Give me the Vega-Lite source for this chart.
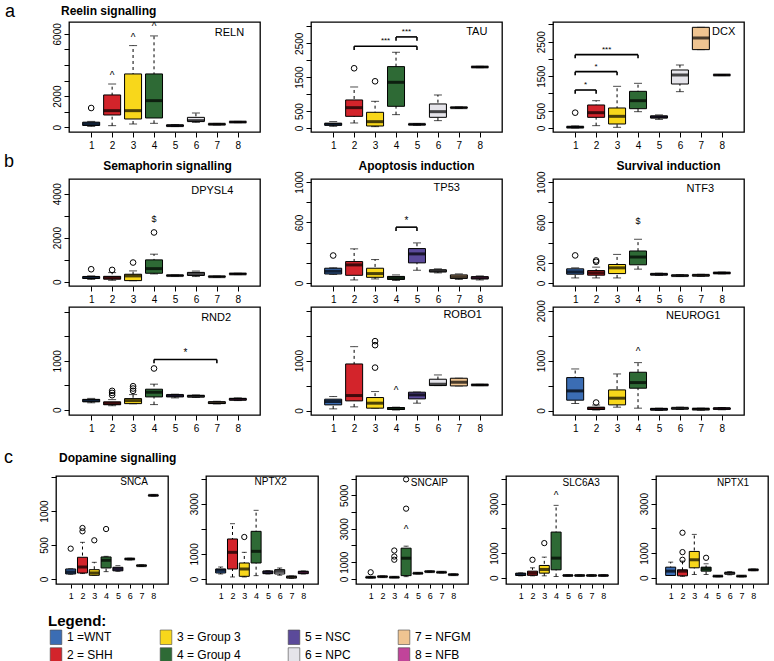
{
"$schema":"https://vega.github.io/schema/vega-lite/v6.json",
"background":"white",
"padding":{"left":4,"top":3,"right":0,"bottom":0},
"config":{
 "font":"Liberation Sans",
 "view":{"stroke":"black","strokeWidth":1.3},
 "text":{"color":"black","fill":"black"},
 "title":{"fontSize":12,"fontWeight":"bold","color":"black","font":"Liberation Sans"},
 "axisX":{"tickSize":5,"labelPadding":3,"labelFontSize":10,"domain":false,"grid":false,"tickColor":"black","labelColor":"black","labelAngle":0,"labelFlush":false,"title":null},
 "axisY":{"tickSize":5,"labelPadding":2,"labelFontSize":10,"domain":false,"grid":false,"tickColor":"black","labelColor":"black","labelAngle":270,"labelAlign":"center","labelBaseline":"bottom","labelOverlap":false,"labelFlush":false,"format":"d","title":null},
 "legend":{"orient":"none","legendX":31,"legendY":592,"direction":"horizontal","columns":4,"gridAlign":"each","columnPadding":45,"rowPadding":0,"titleFontSize":15,"titleFontWeight":"bold","titleFont":"Liberation Sans","labelFont":"Liberation Sans","labelFontSize":12,"labelColor":"black","titleColor":"black","symbolType":"M-0.8,-1H0.8V1H-0.8Z","symbolSize":210,"symbolStrokeColor":"#444","symbolStrokeWidth":0.6,"labelOffset":3,"titlePadding":0}
},
"datasets":{
 "box":[
  {"gene":"RELN","g":1,"lo":60,"q1":120,"med":220,"q3":330,"hi":380},
  {"gene":"RELN","g":2,"lo":107,"q1":792,"med":1070,"q3":2077,"hi":2780},
  {"gene":"RELN","g":3,"lo":214,"q1":535,"med":1070,"q3":3426,"hi":5246},
  {"gene":"RELN","g":4,"lo":257,"q1":600,"med":1713,"q3":3426,"hi":5867},
  {"gene":"RELN","g":5,"lo":50,"q1":70,"med":110,"q3":150,"hi":170},
  {"gene":"RELN","g":6,"lo":320,"q1":385,"med":430,"q3":640,"hi":920},
  {"gene":"RELN","g":7,"lo":150,"q1":170,"med":200,"q3":230,"hi":250},
  {"gene":"RELN","g":8,"lo":300,"q1":320,"med":340,"q3":360,"hi":380},
  {"gene":"TAU","g":1,"lo":50,"q1":80,"med":110,"q3":140,"hi":190},
  {"gene":"TAU","g":2,"lo":148,"q1":344,"med":600,"q3":827,"hi":1210},
  {"gene":"TAU","g":3,"lo":40,"q1":59,"med":187,"q3":463,"hi":787},
  {"gene":"TAU","g":4,"lo":394,"q1":640,"med":1348,"q3":1811,"hi":2234},
  {"gene":"TAU","g":5,"lo":80,"q1":95,"med":108,"q3":120,"hi":130},
  {"gene":"TAU","g":6,"lo":217,"q1":315,"med":482,"q3":709,"hi":974},
  {"gene":"TAU","g":7,"lo":580,"q1":590,"med":600,"q3":610,"hi":620},
  {"gene":"TAU","g":8,"lo":1780,"q1":1790,"med":1800,"q3":1810,"hi":1820},
  {"gene":"DCX","g":1,"lo":0,"q1":10,"med":25,"q3":40,"hi":60},
  {"gene":"DCX","g":2,"lo":68,"q1":309,"med":444,"q3":667,"hi":792},
  {"gene":"DCX","g":3,"lo":20,"q1":116,"med":338,"q3":580,"hi":1208},
  {"gene":"DCX","g":4,"lo":473,"q1":560,"med":792,"q3":1063,"hi":1295},
  {"gene":"DCX","g":5,"lo":250,"q1":290,"med":320,"q3":350,"hi":380},
  {"gene":"DCX","g":6,"lo":1053,"q1":1275,"med":1536,"q3":1681,"hi":1826},
  {"gene":"DCX","g":7,"lo":2271,"q1":2271,"med":2609,"q3":2918,"hi":2918},
  {"gene":"DCX","g":8,"lo":1520,"q1":1528,"med":1536,"q3":1544,"hi":1550},
  {"gene":"DPYSL4","g":1,"lo":100,"q1":140,"med":190,"q3":230,"hi":260},
  {"gene":"DPYSL4","g":2,"lo":60,"q1":110,"med":180,"q3":240,"hi":410},
  {"gene":"DPYSL4","g":3,"lo":40,"q1":46,"med":259,"q3":335,"hi":487},
  {"gene":"DPYSL4","g":4,"lo":350,"q1":380,"med":590,"q3":989,"hi":1248},
  {"gene":"DPYSL4","g":5,"lo":250,"q1":260,"med":275,"q3":290,"hi":300},
  {"gene":"DPYSL4","g":6,"lo":230,"q1":280,"med":350,"q3":420,"hi":480},
  {"gene":"DPYSL4","g":7,"lo":200,"q1":210,"med":225,"q3":240,"hi":250},
  {"gene":"DPYSL4","g":8,"lo":320,"q1":335,"med":350,"q3":365,"hi":380},
  {"gene":"TP53","g":1,"lo":85,"q1":89,"med":116,"q3":146,"hi":150},
  {"gene":"TP53","g":2,"lo":30,"q1":76,"med":179,"q3":212,"hi":338},
  {"gene":"TP53","g":3,"lo":40,"q1":56,"med":93,"q3":146,"hi":232},
  {"gene":"TP53","g":4,"lo":25,"q1":35,"med":50,"q3":65,"hi":80},
  {"gene":"TP53","g":5,"lo":126,"q1":199,"med":288,"q3":341,"hi":397},
  {"gene":"TP53","g":6,"lo":100,"q1":110,"med":120,"q3":130,"hi":140},
  {"gene":"TP53","g":7,"lo":35,"q1":45,"med":60,"q3":80,"hi":90},
  {"gene":"TP53","g":8,"lo":30,"q1":40,"med":52,"q3":62,"hi":70},
  {"gene":"NTF3","g":1,"lo":50,"q1":87,"med":110,"q3":140,"hi":150},
  {"gene":"NTF3","g":2,"lo":50,"q1":77,"med":100,"q3":123,"hi":157},
  {"gene":"NTF3","g":3,"lo":50,"q1":93,"med":150,"q3":183,"hi":283},
  {"gene":"NTF3","g":4,"lo":137,"q1":180,"med":257,"q3":317,"hi":433},
  {"gene":"NTF3","g":5,"lo":75,"q1":80,"med":86,"q3":92,"hi":97},
  {"gene":"NTF3","g":6,"lo":65,"q1":68,"med":73,"q3":78,"hi":82},
  {"gene":"NTF3","g":7,"lo":66,"q1":70,"med":76,"q3":82,"hi":86},
  {"gene":"NTF3","g":8,"lo":90,"q1":94,"med":99,"q3":104,"hi":108},
  {"gene":"RND2","g":1,"lo":140,"q1":160,"med":185,"q3":210,"hi":230},
  {"gene":"RND2","g":2,"lo":80,"q1":100,"med":125,"q3":160,"hi":205},
  {"gene":"RND2","g":3,"lo":120,"q1":123,"med":185,"q3":226,"hi":308},
  {"gene":"RND2","g":4,"lo":103,"q1":260,"med":356,"q3":418,"hi":521},
  {"gene":"RND2","g":5,"lo":240,"q1":260,"med":290,"q3":305,"hi":315},
  {"gene":"RND2","g":6,"lo":250,"q1":260,"med":274,"q3":290,"hi":300},
  {"gene":"RND2","g":7,"lo":116,"q1":125,"med":144,"q3":160,"hi":171},
  {"gene":"RND2","g":8,"lo":185,"q1":195,"med":212,"q3":228,"hi":240},
  {"gene":"ROBO1","g":1,"lo":33,"q1":113,"med":180,"q3":227,"hi":280},
  {"gene":"ROBO1","g":2,"lo":73,"q1":193,"med":300,"q3":933,"hi":1280},
  {"gene":"ROBO1","g":3,"lo":47,"q1":47,"med":147,"q3":260,"hi":380},
  {"gene":"ROBO1","g":4,"lo":10,"q1":20,"med":40,"q3":60,"hi":67},
  {"gene":"ROBO1","g":5,"lo":147,"q1":233,"med":313,"q3":367,"hi":370},
  {"gene":"ROBO1","g":6,"lo":500,"q1":500,"med":527,"q3":627,"hi":713},
  {"gene":"ROBO1","g":7,"lo":493,"q1":493,"med":567,"q3":647,"hi":647},
  {"gene":"ROBO1","g":8,"lo":500,"q1":505,"med":513,"q3":520,"hi":525},
  {"gene":"NEUROG1","g":1,"lo":140,"q1":207,"med":393,"q3":660,"hi":833},
  {"gene":"NEUROG1","g":2,"lo":10,"q1":20,"med":45,"q3":65,"hi":110},
  {"gene":"NEUROG1","g":3,"lo":67,"q1":113,"med":247,"q3":413,"hi":733},
  {"gene":"NEUROG1","g":4,"lo":47,"q1":447,"med":560,"q3":767,"hi":960},
  {"gene":"NEUROG1","g":5,"lo":0,"q1":10,"med":25,"q3":40,"hi":47},
  {"gene":"NEUROG1","g":6,"lo":20,"q1":30,"med":45,"q3":55,"hi":67},
  {"gene":"NEUROG1","g":7,"lo":5,"q1":15,"med":30,"q3":40,"hi":47},
  {"gene":"NEUROG1","g":8,"lo":15,"q1":25,"med":40,"q3":50,"hi":60},
  {"gene":"SNCA","g":1,"lo":70,"q1":74,"med":103,"q3":147,"hi":150},
  {"gene":"SNCA","g":2,"lo":80,"q1":88,"med":176,"q3":319,"hi":539},
  {"gene":"SNCA","g":3,"lo":54,"q1":54,"med":88,"q3":137,"hi":245},
  {"gene":"SNCA","g":4,"lo":108,"q1":162,"med":275,"q3":324,"hi":333},
  {"gene":"SNCA","g":5,"lo":113,"q1":120,"med":147,"q3":172,"hi":196},
  {"gene":"SNCA","g":6,"lo":280,"q1":288,"med":294,"q3":300,"hi":305},
  {"gene":"SNCA","g":7,"lo":185,"q1":190,"med":196,"q3":202,"hi":207},
  {"gene":"SNCA","g":8,"lo":1220,"q1":1225,"med":1230,"q3":1235,"hi":1240},
  {"gene":"NPTX2","g":1,"lo":200,"q1":239,"med":345,"q3":398,"hi":478},
  {"gene":"NPTX2","g":2,"lo":80,"q1":398,"med":1062,"q3":1594,"hi":2204},
  {"gene":"NPTX2","g":3,"lo":80,"q1":106,"med":398,"q3":637,"hi":1062},
  {"gene":"NPTX2","g":4,"lo":133,"q1":637,"med":1102,"q3":1899,"hi":2736},
  {"gene":"NPTX2","g":5,"lo":200,"q1":212,"med":266,"q3":319,"hi":330},
  {"gene":"NPTX2","g":6,"lo":150,"q1":199,"med":305,"q3":372,"hi":438},
  {"gene":"NPTX2","g":7,"lo":30,"q1":40,"med":80,"q3":106,"hi":120},
  {"gene":"NPTX2","g":8,"lo":200,"q1":212,"med":266,"q3":305,"hi":320},
  {"gene":"SNCAIP","g":1,"lo":60,"q1":80,"med":100,"q3":120,"hi":140},
  {"gene":"SNCAIP","g":2,"lo":100,"q1":120,"med":140,"q3":160,"hi":180},
  {"gene":"SNCAIP","g":3,"lo":80,"q1":90,"med":100,"q3":120,"hi":140},
  {"gene":"SNCAIP","g":4,"lo":140,"q1":200,"med":1240,"q3":1840,"hi":1960},
  {"gene":"SNCAIP","g":5,"lo":300,"q1":320,"med":340,"q3":360,"hi":380},
  {"gene":"SNCAIP","g":6,"lo":400,"q1":420,"med":440,"q3":460,"hi":480},
  {"gene":"SNCAIP","g":7,"lo":360,"q1":380,"med":400,"q3":420,"hi":440},
  {"gene":"SNCAIP","g":8,"lo":220,"q1":240,"med":260,"q3":280,"hi":300},
  {"gene":"SLC6A3","g":1,"lo":80,"q1":95,"med":135,"q3":190,"hi":200},
  {"gene":"SLC6A3","g":2,"lo":81,"q1":100,"med":189,"q3":270,"hi":405},
  {"gene":"SLC6A3","g":3,"lo":81,"q1":189,"med":338,"q3":500,"hi":838},
  {"gene":"SLC6A3","g":4,"lo":54,"q1":324,"med":797,"q3":1851,"hi":2932},
  {"gene":"SLC6A3","g":5,"lo":70,"q1":80,"med":95,"q3":110,"hi":120},
  {"gene":"SLC6A3","g":6,"lo":70,"q1":80,"med":95,"q3":110,"hi":120},
  {"gene":"SLC6A3","g":7,"lo":70,"q1":80,"med":95,"q3":110,"hi":120},
  {"gene":"SLC6A3","g":8,"lo":70,"q1":80,"med":95,"q3":110,"hi":120},
  {"gene":"NPTX1","g":1,"lo":95,"q1":95,"med":270,"q3":432,"hi":635},
  {"gene":"NPTX1","g":2,"lo":60,"q1":81,"med":270,"q3":324,"hi":676},
  {"gene":"NPTX1","g":3,"lo":135,"q1":405,"med":730,"q3":1068,"hi":1757},
  {"gene":"NPTX1","g":4,"lo":135,"q1":270,"med":365,"q3":432,"hi":568},
  {"gene":"NPTX1","g":5,"lo":40,"q1":55,"med":68,"q3":80,"hi":95},
  {"gene":"NPTX1","g":6,"lo":120,"q1":150,"med":190,"q3":220,"hi":250},
  {"gene":"NPTX1","g":7,"lo":40,"q1":55,"med":68,"q3":80,"hi":95},
  {"gene":"NPTX1","g":8,"lo":290,"q1":305,"med":324,"q3":340,"hi":355}
 ],
 "out":[
  {"gene":"RELN","g":1,"v":1240},
  {"gene":"TAU","g":2,"v":1762},{"gene":"TAU","g":3,"v":1378},
  {"gene":"DCX","g":1,"v":444},
  {"gene":"DPYSL4","g":1,"v":563},{"gene":"DPYSL4","g":2,"v":533},{"gene":"DPYSL4","g":3,"v":868},{"gene":"DPYSL4","g":4,"v":2237},
  {"gene":"TP53","g":1,"v":272},
  {"gene":"NTF3","g":1,"v":273},{"gene":"NTF3","g":2,"v":223},{"gene":"NTF3","g":2,"v":210},
  {"gene":"RND2","g":2,"v":384},{"gene":"RND2","g":2,"v":342},{"gene":"RND2","g":2,"v":295},{"gene":"RND2","g":3,"v":479},{"gene":"RND2","g":3,"v":432},{"gene":"RND2","g":3,"v":384},{"gene":"RND2","g":4,"v":842},
  {"gene":"ROBO1","g":3,"v":860},{"gene":"ROBO1","g":3,"v":1310},{"gene":"ROBO1","g":3,"v":1390},
  {"gene":"NEUROG1","g":2,"v":160},
  {"gene":"SNCA","g":1,"v":446},{"gene":"SNCA","g":2,"v":750},{"gene":"SNCA","g":2,"v":701},{"gene":"SNCA","g":3,"v":569},{"gene":"SNCA","g":4,"v":735},
  {"gene":"NPTX2","g":3,"v":1673},
  {"gene":"SNCAIP","g":1,"v":400},{"gene":"SNCAIP","g":3,"v":1700},{"gene":"SNCAIP","g":3,"v":1340},{"gene":"SNCAIP","g":3,"v":1150},{"gene":"SNCAIP","g":4,"v":4200},{"gene":"SNCAIP","g":4,"v":5950},
  {"gene":"SLC6A3","g":2,"v":730},{"gene":"SLC6A3","g":3,"v":1405},
  {"gene":"NPTX1","g":2,"v":730},{"gene":"NPTX1","g":2,"v":1040},{"gene":"NPTX1","g":2,"v":1824},{"gene":"NPTX1","g":4,"v":811}
 ],
 "ann":[
  {"gene":"RELN","g":2,"v":3280,"t":"^"},{"gene":"RELN","g":3,"v":5717,"t":"^"},{"gene":"RELN","g":4,"v":6424,"t":"^"},
  {"gene":"DPYSL4","g":4,"v":2846,"t":"$"},
  {"gene":"NTF3","g":4,"v":617,"t":"$"},
  {"gene":"ROBO1","g":4,"v":393,"t":"^"},
  {"gene":"NEUROG1","g":4,"v":1167,"t":"^"},
  {"gene":"SNCAIP","g":4,"v":2940,"t":"^"},
  {"gene":"SLC6A3","g":4,"v":3297,"t":"^"}
 ],
 "br":[
  {"gene":"TAU","a":2,"b":5,"mid":3.5,"y":2411,"ylo":2300,"t":"***"},
  {"gene":"TAU","a":4,"b":5,"mid":4.5,"y":2687,"ylo":2576,"t":"***"},
  {"gene":"DCX","a":1,"b":2,"mid":1.5,"y":1101,"ylo":995,"t":"*"},
  {"gene":"DCX","a":1,"b":3,"mid":2,"y":1633,"ylo":1527,"t":"*"},
  {"gene":"DCX","a":1,"b":4,"mid":2.5,"y":2126,"ylo":2020,"t":"***"},
  {"gene":"TP53","a":4,"b":5,"mid":4.5,"y":553,"ylo":515,"t":"*"},
  {"gene":"RND2","a":4,"b":7,"mid":5.5,"y":1027,"ylo":950,"t":"*"}
 ],
 "lab":[
  {"gene":"RELN","x":8.3,"y":6060},{"gene":"TAU","x":8.36,"y":2830},{"gene":"DCX","x":8.64,"y":2790},
  {"gene":"DPYSL4","x":7.79,"y":4110},{"gene":"TP53","x":7.05,"y":943},{"gene":"NTF3","x":7.63,"y":927},
  {"gene":"RND2","x":7.68,"y":1869},{"gene":"ROBO1","x":8.1,"y":1913},{"gene":"NEUROG1","x":7.93,"y":1893},
  {"gene":"SNCA","x":7.55,"y":1426},{"gene":"NPTX2","x":6.6,"y":3865},{"gene":"SNCAIP","x":7.55,"y":5760},{"gene":"SLC6A3","x":7.7,"y":3850},{"gene":"NPTX1","x":7.65,"y":3850}
 ]
},
"concat":[
 {"concat":[
  {"title":{"text":"a","anchor":"start","frame":"group","align":"left","dx":-12,"fontSize":18,"fontWeight":"normal","offset":-17},
   "hconcat":[
    {"width":1,"height":1,"view":{"stroke":null},"data":{"values":[]},"mark":"point"},
    {"width":191,"height":110,"title":{"text":"Reelin signalling","anchor":"start","dx":9,"offset":4},
     "encoding":{"x":{"field":"g","type":"quantitative","title":null,"scale":{"domain":[0.18,8.82],"nice":false,"zero":false},"axis":{"values":[1,2,3,4,5,6,7,8],"format":"d"}},
       "y":{"field":"v","type":"quantitative","title":null,"scale":{"domain":[-300,6760],"nice":false,"zero":false},"axis":{"values":[0,1000,2000,3000,4000,5000,6000],"labelExpr":"indexof([0,2000,6000],datum.value)>=0?datum.label:''"}}},
     "layer":[
      {"data":{"name":"box"},"transform":[{"filter":"datum.gene=='RELN'"}],"layer":[
       {"mark":{"type":"rule","color":"black","strokeDash":[3,3]},"encoding":{"y":{"field":"lo","type":"quantitative","title":null},"y2":{"field":"hi"}}},
       {"mark":{"type":"tick","orient":"horizontal","color":"black","size":8,"thickness":1},"encoding":{"y":{"field":"lo","type":"quantitative","title":null}}},
       {"mark":{"type":"tick","orient":"horizontal","color":"black","size":8,"thickness":1},"encoding":{"y":{"field":"hi","type":"quantitative","title":null}}},
       {"mark":{"type":"bar","orient":"vertical","size":17,"stroke":"black","strokeWidth":1},"encoding":{"y":{"field":"q1","type":"quantitative","title":null},"y2":{"field":"q3"},"fill":{"field":"g","type":"nominal","scale":{"domain":[1,3,5,7,2,4,6,8],"range":["#3b6db4","#f8d71b","#5b4a9a","#efc491","#d3242b","#2e6a35","#e5e4ea","#c1449a"]},"legend":{"title":"Legend:","labelExpr":"['','1 =WNT','2 = SHH','3 = Group 3','4 = Group 4','5 = NSC','6 = NPC','7 = NFGM','8 = NFB'][datum.value]"}}}},
       {"mark":{"type":"tick","orient":"horizontal","color":"black","size":17,"thickness":3},"encoding":{"y":{"field":"med","type":"quantitative","title":null}}}
      ]},
      {"data":{"name":"out"},"transform":[{"filter":"datum.gene=='RELN'"}],"mark":{"type":"point","shape":"circle","filled":false,"color":"black","size":32,"strokeWidth":1,"opacity":1}},
      {"data":{"name":"ann"},"transform":[{"filter":"datum.gene=='RELN'"}],"mark":{"type":"text","fontSize":10,"color":"black"},"encoding":{"text":{"field":"t"}}},
      {"data":{"name":"lab"},"transform":[{"filter":"datum.gene=='RELN'"}],"mark":{"type":"text","align":"right","fontSize":11,"color":"black"},"encoding":{"x":{"field":"x","type":"quantitative","title":null},"y":{"field":"y","type":"quantitative","title":null},"text":{"field":"gene"}}}
     ]},
    {"width":191,"height":110,
     "encoding":{"x":{"field":"g","type":"quantitative","title":null,"scale":{"domain":[0.18,8.82],"nice":false,"zero":false},"axis":{"values":[1,2,3,4,5,6,7,8],"format":"d"}},
       "y":{"field":"v","type":"quantitative","title":null,"scale":{"domain":[-118,3127],"nice":false,"zero":false},"axis":{"values":[0,500,1000,1500,2000,2500,3000],"labelExpr":"indexof([0,500,1500,2500],datum.value)>=0?datum.label:''"}}},
     "layer":[
      {"data":{"name":"box"},"transform":[{"filter":"datum.gene=='TAU'"}],"layer":[
       {"mark":{"type":"rule","color":"black","strokeDash":[3,3]},"encoding":{"y":{"field":"lo","type":"quantitative","title":null},"y2":{"field":"hi"}}},
       {"mark":{"type":"tick","orient":"horizontal","color":"black","size":8,"thickness":1},"encoding":{"y":{"field":"lo","type":"quantitative","title":null}}},
       {"mark":{"type":"tick","orient":"horizontal","color":"black","size":8,"thickness":1},"encoding":{"y":{"field":"hi","type":"quantitative","title":null}}},
       {"mark":{"type":"bar","orient":"vertical","size":17,"stroke":"black","strokeWidth":1},"encoding":{"y":{"field":"q1","type":"quantitative","title":null},"y2":{"field":"q3"},"fill":{"field":"g","type":"nominal","scale":{"domain":[1,3,5,7,2,4,6,8],"range":["#3b6db4","#f8d71b","#5b4a9a","#efc491","#d3242b","#2e6a35","#e5e4ea","#c1449a"]},"legend":{"title":"Legend:","labelExpr":"['','1 =WNT','2 = SHH','3 = Group 3','4 = Group 4','5 = NSC','6 = NPC','7 = NFGM','8 = NFB'][datum.value]"}}}},
       {"mark":{"type":"tick","orient":"horizontal","color":"black","size":17,"thickness":3},"encoding":{"y":{"field":"med","type":"quantitative","title":null}}}
      ]},
      {"data":{"name":"out"},"transform":[{"filter":"datum.gene=='TAU'"}],"mark":{"type":"point","shape":"circle","filled":false,"color":"black","size":32,"strokeWidth":1,"opacity":1}},
      {"data":{"name":"br"},"transform":[{"filter":"datum.gene=='TAU'"}],"layer":[
       {"mark":{"type":"rule","color":"black","strokeWidth":1.6},"encoding":{"x":{"field":"a","type":"quantitative","title":null},"x2":{"field":"b"},"y":{"field":"y","type":"quantitative","title":null}}},
       {"mark":{"type":"rule","color":"black","strokeWidth":1.6},"encoding":{"x":{"field":"a","type":"quantitative","title":null},"y":{"field":"ylo","type":"quantitative","title":null},"y2":{"field":"y"}}},
       {"mark":{"type":"rule","color":"black","strokeWidth":1.6},"encoding":{"x":{"field":"b","type":"quantitative","title":null},"y":{"field":"ylo","type":"quantitative","title":null},"y2":{"field":"y"}}},
       {"mark":{"type":"text","baseline":"bottom","dy":-1,"fontSize":8,"color":"black"},"encoding":{"x":{"field":"mid","type":"quantitative","title":null},"y":{"field":"y","type":"quantitative","title":null},"text":{"field":"t"}}}
      ]},
      {"data":{"name":"lab"},"transform":[{"filter":"datum.gene=='TAU'"}],"mark":{"type":"text","align":"right","fontSize":11,"color":"black"},"encoding":{"x":{"field":"x","type":"quantitative","title":null},"y":{"field":"y","type":"quantitative","title":null},"text":{"field":"gene"}}}
     ]},
    {"width":191,"height":110,
     "encoding":{"x":{"field":"g","type":"quantitative","title":null,"scale":{"domain":[0.18,8.82],"nice":false,"zero":false},"axis":{"values":[1,2,3,4,5,6,7,8],"format":"d"}},
       "y":{"field":"v","type":"quantitative","title":null,"scale":{"domain":[-116,3072],"nice":false,"zero":false},"axis":{"values":[0,500,1000,1500,2000,2500,3000],"labelExpr":"indexof([0,500,1500,2500],datum.value)>=0?datum.label:''"}}},
     "layer":[
      {"data":{"name":"box"},"transform":[{"filter":"datum.gene=='DCX'"}],"layer":[
       {"mark":{"type":"rule","color":"black","strokeDash":[3,3]},"encoding":{"y":{"field":"lo","type":"quantitative","title":null},"y2":{"field":"hi"}}},
       {"mark":{"type":"tick","orient":"horizontal","color":"black","size":8,"thickness":1},"encoding":{"y":{"field":"lo","type":"quantitative","title":null}}},
       {"mark":{"type":"tick","orient":"horizontal","color":"black","size":8,"thickness":1},"encoding":{"y":{"field":"hi","type":"quantitative","title":null}}},
       {"mark":{"type":"bar","orient":"vertical","size":17,"stroke":"black","strokeWidth":1},"encoding":{"y":{"field":"q1","type":"quantitative","title":null},"y2":{"field":"q3"},"fill":{"field":"g","type":"nominal","scale":{"domain":[1,3,5,7,2,4,6,8],"range":["#3b6db4","#f8d71b","#5b4a9a","#efc491","#d3242b","#2e6a35","#e5e4ea","#c1449a"]},"legend":{"title":"Legend:","labelExpr":"['','1 =WNT','2 = SHH','3 = Group 3','4 = Group 4','5 = NSC','6 = NPC','7 = NFGM','8 = NFB'][datum.value]"}}}},
       {"mark":{"type":"tick","orient":"horizontal","color":"black","size":17,"thickness":3},"encoding":{"y":{"field":"med","type":"quantitative","title":null}}}
      ]},
      {"data":{"name":"out"},"transform":[{"filter":"datum.gene=='DCX'"}],"mark":{"type":"point","shape":"circle","filled":false,"color":"black","size":32,"strokeWidth":1,"opacity":1}},
      {"data":{"name":"br"},"transform":[{"filter":"datum.gene=='DCX'"}],"layer":[
       {"mark":{"type":"rule","color":"black","strokeWidth":1.6},"encoding":{"x":{"field":"a","type":"quantitative","title":null},"x2":{"field":"b"},"y":{"field":"y","type":"quantitative","title":null}}},
       {"mark":{"type":"rule","color":"black","strokeWidth":1.6},"encoding":{"x":{"field":"a","type":"quantitative","title":null},"y":{"field":"ylo","type":"quantitative","title":null},"y2":{"field":"y"}}},
       {"mark":{"type":"rule","color":"black","strokeWidth":1.6},"encoding":{"x":{"field":"b","type":"quantitative","title":null},"y":{"field":"ylo","type":"quantitative","title":null},"y2":{"field":"y"}}},
       {"mark":{"type":"text","baseline":"bottom","dy":-1,"fontSize":8,"color":"black"},"encoding":{"x":{"field":"mid","type":"quantitative","title":null},"y":{"field":"y","type":"quantitative","title":null},"text":{"field":"t"}}}
      ]},
      {"data":{"name":"lab"},"transform":[{"filter":"datum.gene=='DCX'"}],"mark":{"type":"text","align":"right","fontSize":11,"color":"black"},"encoding":{"x":{"field":"x","type":"quantitative","title":null},"y":{"field":"y","type":"quantitative","title":null},"text":{"field":"gene"}}}
     ]}
   ],"spacing":51,"bounds":"flush"},
  {"vconcat":[
   {"title":{"text":"b","anchor":"start","frame":"group","align":"left","dx":-13,"fontSize":18,"fontWeight":"normal","offset":-12},
    "hconcat":[
     {"width":1,"height":1,"view":{"stroke":null},"data":{"values":[]},"mark":"point"},
     {"width":191,"height":107,"title":{"text":"Semaphorin signalling","anchor":"middle","dx":3,"offset":6},
      "encoding":{"x":{"field":"g","type":"quantitative","title":null,"scale":{"domain":[0.18,8.82],"nice":false,"zero":false},"axis":{"values":[1,2,3,4,5,6,7,8],"format":"d"}},
        "y":{"field":"v","type":"quantitative","title":null,"scale":{"domain":[-200,4670],"nice":false,"zero":false},"axis":{"values":[0,1000,2000,3000,4000],"labelExpr":"indexof([0,2000,4000],datum.value)>=0?datum.label:''"}}},
      "layer":[
       {"data":{"name":"box"},"transform":[{"filter":"datum.gene=='DPYSL4'"}],"layer":[
        {"mark":{"type":"rule","color":"black","strokeDash":[3,3]},"encoding":{"y":{"field":"lo","type":"quantitative","title":null},"y2":{"field":"hi"}}},
        {"mark":{"type":"tick","orient":"horizontal","color":"black","size":8,"thickness":1},"encoding":{"y":{"field":"lo","type":"quantitative","title":null}}},
        {"mark":{"type":"tick","orient":"horizontal","color":"black","size":8,"thickness":1},"encoding":{"y":{"field":"hi","type":"quantitative","title":null}}},
        {"mark":{"type":"bar","orient":"vertical","size":17,"stroke":"black","strokeWidth":1},"encoding":{"y":{"field":"q1","type":"quantitative","title":null},"y2":{"field":"q3"},"fill":{"field":"g","type":"nominal","scale":{"domain":[1,3,5,7,2,4,6,8],"range":["#3b6db4","#f8d71b","#5b4a9a","#efc491","#d3242b","#2e6a35","#e5e4ea","#c1449a"]},"legend":{"title":"Legend:","labelExpr":"['','1 =WNT','2 = SHH','3 = Group 3','4 = Group 4','5 = NSC','6 = NPC','7 = NFGM','8 = NFB'][datum.value]"}}}},
        {"mark":{"type":"tick","orient":"horizontal","color":"black","size":17,"thickness":3},"encoding":{"y":{"field":"med","type":"quantitative","title":null}}}
       ]},
       {"data":{"name":"out"},"transform":[{"filter":"datum.gene=='DPYSL4'"}],"mark":{"type":"point","shape":"circle","filled":false,"color":"black","size":32,"strokeWidth":1,"opacity":1}},
       {"data":{"name":"ann"},"transform":[{"filter":"datum.gene=='DPYSL4'"}],"mark":{"type":"text","fontSize":9,"color":"black","fill":"black"},"encoding":{"text":{"field":"t"}}},
       {"data":{"name":"lab"},"transform":[{"filter":"datum.gene=='DPYSL4'"}],"mark":{"type":"text","align":"right","fontSize":11,"color":"black"},"encoding":{"x":{"field":"x","type":"quantitative","title":null},"y":{"field":"y","type":"quantitative","title":null},"text":{"field":"gene"}}}
      ]},
     {"width":191,"height":107,"title":{"text":"Apoptosis induction","anchor":"middle","dx":10,"offset":-2},
      "encoding":{"x":{"field":"g","type":"quantitative","title":null,"scale":{"domain":[0.18,8.82],"nice":false,"zero":false},"axis":{"values":[1,2,3,4,5,6,7,8],"format":"d"}},
        "y":{"field":"v","type":"quantitative","title":null,"scale":{"domain":[-30,1030],"nice":false,"zero":false},"axis":{"values":[0,200,400,600,800,1000],"labelExpr":"indexof([0,600,1000],datum.value)>=0?datum.label:''"}}},
      "layer":[
       {"data":{"name":"box"},"transform":[{"filter":"datum.gene=='TP53'"}],"layer":[
        {"mark":{"type":"rule","color":"black","strokeDash":[3,3]},"encoding":{"y":{"field":"lo","type":"quantitative","title":null},"y2":{"field":"hi"}}},
        {"mark":{"type":"tick","orient":"horizontal","color":"black","size":8,"thickness":1},"encoding":{"y":{"field":"lo","type":"quantitative","title":null}}},
        {"mark":{"type":"tick","orient":"horizontal","color":"black","size":8,"thickness":1},"encoding":{"y":{"field":"hi","type":"quantitative","title":null}}},
        {"mark":{"type":"bar","orient":"vertical","size":17,"stroke":"black","strokeWidth":1},"encoding":{"y":{"field":"q1","type":"quantitative","title":null},"y2":{"field":"q3"},"fill":{"field":"g","type":"nominal","scale":{"domain":[1,3,5,7,2,4,6,8],"range":["#3b6db4","#f8d71b","#5b4a9a","#efc491","#d3242b","#2e6a35","#e5e4ea","#c1449a"]},"legend":{"title":"Legend:","labelExpr":"['','1 =WNT','2 = SHH','3 = Group 3','4 = Group 4','5 = NSC','6 = NPC','7 = NFGM','8 = NFB'][datum.value]"}}}},
        {"mark":{"type":"tick","orient":"horizontal","color":"black","size":17,"thickness":3},"encoding":{"y":{"field":"med","type":"quantitative","title":null}}}
       ]},
       {"data":{"name":"out"},"transform":[{"filter":"datum.gene=='TP53'"}],"mark":{"type":"point","shape":"circle","filled":false,"color":"black","size":32,"strokeWidth":1,"opacity":1}},
       {"data":{"name":"br"},"transform":[{"filter":"datum.gene=='TP53'"}],"layer":[
        {"mark":{"type":"rule","color":"black","strokeWidth":1.6},"encoding":{"x":{"field":"a","type":"quantitative","title":null},"x2":{"field":"b"},"y":{"field":"y","type":"quantitative","title":null}}},
        {"mark":{"type":"rule","color":"black","strokeWidth":1.6},"encoding":{"x":{"field":"a","type":"quantitative","title":null},"y":{"field":"ylo","type":"quantitative","title":null},"y2":{"field":"y"}}},
        {"mark":{"type":"rule","color":"black","strokeWidth":1.6},"encoding":{"x":{"field":"b","type":"quantitative","title":null},"y":{"field":"ylo","type":"quantitative","title":null},"y2":{"field":"y"}}},
        {"mark":{"type":"text","baseline":"bottom","dy":-1,"fontSize":10,"color":"black"},"encoding":{"x":{"field":"mid","type":"quantitative","title":null},"y":{"field":"y","type":"quantitative","title":null},"text":{"field":"t"}}}
       ]},
       {"data":{"name":"lab"},"transform":[{"filter":"datum.gene=='TP53'"}],"mark":{"type":"text","align":"right","fontSize":11,"color":"black"},"encoding":{"x":{"field":"x","type":"quantitative","title":null},"y":{"field":"y","type":"quantitative","title":null},"text":{"field":"gene"}}}
      ]},
     {"width":191,"height":107,"title":{"text":"Survival induction","anchor":"middle","dx":20,"offset":-2},
      "encoding":{"x":{"field":"g","type":"quantitative","title":null,"scale":{"domain":[0.18,8.82],"nice":false,"zero":false},"axis":{"values":[1,2,3,4,5,6,7,8],"format":"d"}},
        "y":{"field":"v","type":"quantitative","title":null,"scale":{"domain":[-30,1030],"nice":false,"zero":false},"axis":{"values":[0,200,400,600,800,1000],"labelExpr":"indexof([0,200,600,1000],datum.value)>=0?datum.label:''"}}},
      "layer":[
       {"data":{"name":"box"},"transform":[{"filter":"datum.gene=='NTF3'"}],"layer":[
        {"mark":{"type":"rule","color":"black","strokeDash":[3,3]},"encoding":{"y":{"field":"lo","type":"quantitative","title":null},"y2":{"field":"hi"}}},
        {"mark":{"type":"tick","orient":"horizontal","color":"black","size":8,"thickness":1},"encoding":{"y":{"field":"lo","type":"quantitative","title":null}}},
        {"mark":{"type":"tick","orient":"horizontal","color":"black","size":8,"thickness":1},"encoding":{"y":{"field":"hi","type":"quantitative","title":null}}},
        {"mark":{"type":"bar","orient":"vertical","size":17,"stroke":"black","strokeWidth":1},"encoding":{"y":{"field":"q1","type":"quantitative","title":null},"y2":{"field":"q3"},"fill":{"field":"g","type":"nominal","scale":{"domain":[1,3,5,7,2,4,6,8],"range":["#3b6db4","#f8d71b","#5b4a9a","#efc491","#d3242b","#2e6a35","#e5e4ea","#c1449a"]},"legend":{"title":"Legend:","labelExpr":"['','1 =WNT','2 = SHH','3 = Group 3','4 = Group 4','5 = NSC','6 = NPC','7 = NFGM','8 = NFB'][datum.value]"}}}},
        {"mark":{"type":"tick","orient":"horizontal","color":"black","size":17,"thickness":3},"encoding":{"y":{"field":"med","type":"quantitative","title":null}}}
       ]},
       {"data":{"name":"out"},"transform":[{"filter":"datum.gene=='NTF3'"}],"mark":{"type":"point","shape":"circle","filled":false,"color":"black","size":32,"strokeWidth":1,"opacity":1}},
       {"data":{"name":"ann"},"transform":[{"filter":"datum.gene=='NTF3'"}],"mark":{"type":"text","fontSize":9,"color":"black","fill":"black"},"encoding":{"text":{"field":"t"}}},
       {"data":{"name":"lab"},"transform":[{"filter":"datum.gene=='NTF3'"}],"mark":{"type":"text","align":"right","fontSize":11,"color":"black"},"encoding":{"x":{"field":"x","type":"quantitative","title":null},"y":{"field":"y","type":"quantitative","title":null},"text":{"field":"gene"}}}
      ]}
    ],"spacing":51,"bounds":"flush"},
   {"hconcat":[
     {"width":1,"height":1,"view":{"stroke":null},"data":{"values":[]},"mark":"point"},
     {"width":191,"height":108,
      "encoding":{"x":{"field":"g","type":"quantitative","title":null,"scale":{"domain":[0.18,8.82],"nice":false,"zero":false},"axis":{"values":[1,2,3,4,5,6,7,8],"format":"d"}},
        "y":{"field":"v","type":"quantitative","title":null,"scale":{"domain":[-110,2100],"nice":false,"zero":false},"axis":{"values":[0,500,1000,1500,2000],"labelExpr":"indexof([0,1000],datum.value)>=0?datum.label:''"}}},
      "layer":[
       {"data":{"name":"box"},"transform":[{"filter":"datum.gene=='RND2'"}],"layer":[
        {"mark":{"type":"rule","color":"black","strokeDash":[3,3]},"encoding":{"y":{"field":"lo","type":"quantitative","title":null},"y2":{"field":"hi"}}},
        {"mark":{"type":"tick","orient":"horizontal","color":"black","size":8,"thickness":1},"encoding":{"y":{"field":"lo","type":"quantitative","title":null}}},
        {"mark":{"type":"tick","orient":"horizontal","color":"black","size":8,"thickness":1},"encoding":{"y":{"field":"hi","type":"quantitative","title":null}}},
        {"mark":{"type":"bar","orient":"vertical","size":17,"stroke":"black","strokeWidth":1},"encoding":{"y":{"field":"q1","type":"quantitative","title":null},"y2":{"field":"q3"},"fill":{"field":"g","type":"nominal","scale":{"domain":[1,3,5,7,2,4,6,8],"range":["#3b6db4","#f8d71b","#5b4a9a","#efc491","#d3242b","#2e6a35","#e5e4ea","#c1449a"]},"legend":{"title":"Legend:","labelExpr":"['','1 =WNT','2 = SHH','3 = Group 3','4 = Group 4','5 = NSC','6 = NPC','7 = NFGM','8 = NFB'][datum.value]"}}}},
        {"mark":{"type":"tick","orient":"horizontal","color":"black","size":17,"thickness":3},"encoding":{"y":{"field":"med","type":"quantitative","title":null}}}
       ]},
       {"data":{"name":"out"},"transform":[{"filter":"datum.gene=='RND2'"}],"mark":{"type":"point","shape":"circle","filled":false,"color":"black","size":32,"strokeWidth":1,"opacity":1}},
       {"data":{"name":"br"},"transform":[{"filter":"datum.gene=='RND2'"}],"layer":[
        {"mark":{"type":"rule","color":"black","strokeWidth":1.6},"encoding":{"x":{"field":"a","type":"quantitative","title":null},"x2":{"field":"b"},"y":{"field":"y","type":"quantitative","title":null}}},
        {"mark":{"type":"rule","color":"black","strokeWidth":1.6},"encoding":{"x":{"field":"a","type":"quantitative","title":null},"y":{"field":"ylo","type":"quantitative","title":null},"y2":{"field":"y"}}},
        {"mark":{"type":"rule","color":"black","strokeWidth":1.6},"encoding":{"x":{"field":"b","type":"quantitative","title":null},"y":{"field":"ylo","type":"quantitative","title":null},"y2":{"field":"y"}}},
        {"mark":{"type":"text","baseline":"bottom","dy":-1,"fontSize":10,"color":"black"},"encoding":{"x":{"field":"mid","type":"quantitative","title":null},"y":{"field":"y","type":"quantitative","title":null},"text":{"field":"t"}}}
       ]},
       {"data":{"name":"lab"},"transform":[{"filter":"datum.gene=='RND2'"}],"mark":{"type":"text","align":"right","fontSize":11,"color":"black"},"encoding":{"x":{"field":"x","type":"quantitative","title":null},"y":{"field":"y","type":"quantitative","title":null},"text":{"field":"gene"}}}
      ]},
     {"width":191,"height":108,
      "encoding":{"x":{"field":"g","type":"quantitative","title":null,"scale":{"domain":[0.18,8.82],"nice":false,"zero":false},"axis":{"values":[1,2,3,4,5,6,7,8],"format":"d"}},
        "y":{"field":"v","type":"quantitative","title":null,"scale":{"domain":[-90,2075],"nice":false,"zero":false},"axis":{"values":[0,500,1000,1500,2000],"labelExpr":"indexof([0,1000],datum.value)>=0?datum.label:''"}}},
      "layer":[
       {"data":{"name":"box"},"transform":[{"filter":"datum.gene=='ROBO1'"}],"layer":[
        {"mark":{"type":"rule","color":"black","strokeDash":[3,3]},"encoding":{"y":{"field":"lo","type":"quantitative","title":null},"y2":{"field":"hi"}}},
        {"mark":{"type":"tick","orient":"horizontal","color":"black","size":8,"thickness":1},"encoding":{"y":{"field":"lo","type":"quantitative","title":null}}},
        {"mark":{"type":"tick","orient":"horizontal","color":"black","size":8,"thickness":1},"encoding":{"y":{"field":"hi","type":"quantitative","title":null}}},
        {"mark":{"type":"bar","orient":"vertical","size":17,"stroke":"black","strokeWidth":1},"encoding":{"y":{"field":"q1","type":"quantitative","title":null},"y2":{"field":"q3"},"fill":{"field":"g","type":"nominal","scale":{"domain":[1,3,5,7,2,4,6,8],"range":["#3b6db4","#f8d71b","#5b4a9a","#efc491","#d3242b","#2e6a35","#e5e4ea","#c1449a"]},"legend":{"title":"Legend:","labelExpr":"['','1 =WNT','2 = SHH','3 = Group 3','4 = Group 4','5 = NSC','6 = NPC','7 = NFGM','8 = NFB'][datum.value]"}}}},
        {"mark":{"type":"tick","orient":"horizontal","color":"black","size":17,"thickness":3},"encoding":{"y":{"field":"med","type":"quantitative","title":null}}}
       ]},
       {"data":{"name":"out"},"transform":[{"filter":"datum.gene=='ROBO1'"}],"mark":{"type":"point","shape":"circle","filled":false,"color":"black","size":32,"strokeWidth":1,"opacity":1}},
       {"data":{"name":"ann"},"transform":[{"filter":"datum.gene=='ROBO1'"}],"mark":{"type":"text","fontSize":10,"color":"black"},"encoding":{"text":{"field":"t"}}},
       {"data":{"name":"lab"},"transform":[{"filter":"datum.gene=='ROBO1'"}],"mark":{"type":"text","align":"right","fontSize":11,"color":"black"},"encoding":{"x":{"field":"x","type":"quantitative","title":null},"y":{"field":"y","type":"quantitative","title":null},"text":{"field":"gene"}}}
      ]},
     {"width":191,"height":108,
      "encoding":{"x":{"field":"g","type":"quantitative","title":null,"scale":{"domain":[0.18,8.82],"nice":false,"zero":false},"axis":{"values":[1,2,3,4,5,6,7,8],"format":"d"}},
        "y":{"field":"v","type":"quantitative","title":null,"scale":{"domain":[-90,2075],"nice":false,"zero":false},"axis":{"values":[0,500,1000,1500,2000],"labelExpr":"indexof([0,1000,2000],datum.value)>=0?datum.label:''"}}},
      "layer":[
       {"data":{"name":"box"},"transform":[{"filter":"datum.gene=='NEUROG1'"}],"layer":[
        {"mark":{"type":"rule","color":"black","strokeDash":[3,3]},"encoding":{"y":{"field":"lo","type":"quantitative","title":null},"y2":{"field":"hi"}}},
        {"mark":{"type":"tick","orient":"horizontal","color":"black","size":8,"thickness":1},"encoding":{"y":{"field":"lo","type":"quantitative","title":null}}},
        {"mark":{"type":"tick","orient":"horizontal","color":"black","size":8,"thickness":1},"encoding":{"y":{"field":"hi","type":"quantitative","title":null}}},
        {"mark":{"type":"bar","orient":"vertical","size":17,"stroke":"black","strokeWidth":1},"encoding":{"y":{"field":"q1","type":"quantitative","title":null},"y2":{"field":"q3"},"fill":{"field":"g","type":"nominal","scale":{"domain":[1,3,5,7,2,4,6,8],"range":["#3b6db4","#f8d71b","#5b4a9a","#efc491","#d3242b","#2e6a35","#e5e4ea","#c1449a"]},"legend":{"title":"Legend:","labelExpr":"['','1 =WNT','2 = SHH','3 = Group 3','4 = Group 4','5 = NSC','6 = NPC','7 = NFGM','8 = NFB'][datum.value]"}}}},
        {"mark":{"type":"tick","orient":"horizontal","color":"black","size":17,"thickness":3},"encoding":{"y":{"field":"med","type":"quantitative","title":null}}}
       ]},
       {"data":{"name":"out"},"transform":[{"filter":"datum.gene=='NEUROG1'"}],"mark":{"type":"point","shape":"circle","filled":false,"color":"black","size":32,"strokeWidth":1,"opacity":1}},
       {"data":{"name":"ann"},"transform":[{"filter":"datum.gene=='NEUROG1'"}],"mark":{"type":"text","fontSize":10,"color":"black"},"encoding":{"text":{"field":"t"}}},
       {"data":{"name":"lab"},"transform":[{"filter":"datum.gene=='NEUROG1'"}],"mark":{"type":"text","align":"right","fontSize":11,"color":"black"},"encoding":{"x":{"field":"x","type":"quantitative","title":null},"y":{"field":"y","type":"quantitative","title":null},"text":{"field":"gene"}}}
      ]}
    ],"spacing":51,"bounds":"flush"}
  ],"spacing":-7}
 ],"columns":1,"align":"none","spacing":2},
 {"title":{"text":"c","anchor":"start","frame":"group","align":"left","dx":-13,"fontSize":18,"fontWeight":"normal","offset":-16},
  "hconcat":[
   {"width":1,"height":1,"view":{"stroke":null},"data":{"values":[]},"mark":"point"},
   {"width":112,"height":108,"title":{"text":"Dopamine signalling","anchor":"start","dx":20,"offset":11},
    "encoding":{"x":{"field":"g","type":"quantitative","title":null,"scale":{"domain":[0.18,8.82],"nice":false,"zero":false},"axis":{"values":[1,2,3,4,5,6,7,8],"format":"d","labelFontSize":9,"tickSize":4}},
      "y":{"field":"v","type":"quantitative","title":null,"scale":{"domain":[-74,1515],"nice":false,"zero":false},"axis":{"values":[0,500,1000,1500],"labelExpr":"indexof([0,500,1000],datum.value)>=0?datum.label:''"}}},
    "layer":[
     {"data":{"name":"box"},"transform":[{"filter":"datum.gene=='SNCA'"}],"layer":[
      {"mark":{"type":"rule","color":"black","strokeDash":[3,3]},"encoding":{"y":{"field":"lo","type":"quantitative","title":null},"y2":{"field":"hi"}}},
      {"mark":{"type":"tick","orient":"horizontal","color":"black","size":5,"thickness":1},"encoding":{"y":{"field":"lo","type":"quantitative","title":null}}},
      {"mark":{"type":"tick","orient":"horizontal","color":"black","size":5,"thickness":1},"encoding":{"y":{"field":"hi","type":"quantitative","title":null}}},
      {"mark":{"type":"bar","orient":"vertical","size":10,"stroke":"black","strokeWidth":1},"encoding":{"y":{"field":"q1","type":"quantitative","title":null},"y2":{"field":"q3"},"fill":{"field":"g","type":"nominal","scale":{"domain":[1,3,5,7,2,4,6,8],"range":["#3b6db4","#f8d71b","#5b4a9a","#efc491","#d3242b","#2e6a35","#e5e4ea","#c1449a"]},"legend":{"title":"Legend:","labelExpr":"['','1 =WNT','2 = SHH','3 = Group 3','4 = Group 4','5 = NSC','6 = NPC','7 = NFGM','8 = NFB'][datum.value]"}}}},
      {"mark":{"type":"tick","orient":"horizontal","color":"black","size":10,"thickness":3},"encoding":{"y":{"field":"med","type":"quantitative","title":null}}}
     ]},
     {"data":{"name":"out"},"transform":[{"filter":"datum.gene=='SNCA'"}],"mark":{"type":"point","shape":"circle","filled":false,"color":"black","size":28,"strokeWidth":1,"opacity":1}},
     {"data":{"name":"lab"},"transform":[{"filter":"datum.gene=='SNCA'"}],"mark":{"type":"text","align":"right","fontSize":10,"color":"black"},"encoding":{"x":{"field":"x","type":"quantitative","title":null},"y":{"field":"y","type":"quantitative","title":null},"text":{"field":"gene"}}}
    ]},
   {"width":112,"height":108,
    "encoding":{"x":{"field":"g","type":"quantitative","title":null,"scale":{"domain":[0.18,8.82],"nice":false,"zero":false},"axis":{"values":[1,2,3,4,5,6,7,8],"format":"d","labelFontSize":9,"tickSize":4}},
      "y":{"field":"v","type":"quantitative","title":null,"scale":{"domain":[-200,4104],"nice":false,"zero":false},"axis":{"values":[0,1000,2000,3000,4000],"labelExpr":"indexof([0,1000,3000],datum.value)>=0?datum.label:''"}}},
    "layer":[
     {"data":{"name":"box"},"transform":[{"filter":"datum.gene=='NPTX2'"}],"layer":[
      {"mark":{"type":"rule","color":"black","strokeDash":[3,3]},"encoding":{"y":{"field":"lo","type":"quantitative","title":null},"y2":{"field":"hi"}}},
      {"mark":{"type":"tick","orient":"horizontal","color":"black","size":5,"thickness":1},"encoding":{"y":{"field":"lo","type":"quantitative","title":null}}},
      {"mark":{"type":"tick","orient":"horizontal","color":"black","size":5,"thickness":1},"encoding":{"y":{"field":"hi","type":"quantitative","title":null}}},
      {"mark":{"type":"bar","orient":"vertical","size":10,"stroke":"black","strokeWidth":1},"encoding":{"y":{"field":"q1","type":"quantitative","title":null},"y2":{"field":"q3"},"fill":{"field":"g","type":"nominal","scale":{"domain":[1,3,5,7,2,4,6,8],"range":["#3b6db4","#f8d71b","#5b4a9a","#efc491","#d3242b","#2e6a35","#e5e4ea","#c1449a"]},"legend":{"title":"Legend:","labelExpr":"['','1 =WNT','2 = SHH','3 = Group 3','4 = Group 4','5 = NSC','6 = NPC','7 = NFGM','8 = NFB'][datum.value]"}}}},
      {"mark":{"type":"tick","orient":"horizontal","color":"black","size":10,"thickness":3},"encoding":{"y":{"field":"med","type":"quantitative","title":null}}}
     ]},
     {"data":{"name":"out"},"transform":[{"filter":"datum.gene=='NPTX2'"}],"mark":{"type":"point","shape":"circle","filled":false,"color":"black","size":28,"strokeWidth":1,"opacity":1}},
     {"data":{"name":"lab"},"transform":[{"filter":"datum.gene=='NPTX2'"}],"mark":{"type":"text","align":"right","fontSize":10,"color":"black"},"encoding":{"x":{"field":"x","type":"quantitative","title":null},"y":{"field":"y","type":"quantitative","title":null},"text":{"field":"gene"}}}
    ]},
   {"width":112,"height":108,
    "encoding":{"x":{"field":"g","type":"quantitative","title":null,"scale":{"domain":[0.18,8.82],"nice":false,"zero":false},"axis":{"values":[1,2,3,4,5,6,7,8],"format":"d","labelFontSize":9,"tickSize":4}},
      "y":{"field":"v","type":"quantitative","title":null,"scale":{"domain":[-300,6150],"nice":false,"zero":false},"axis":{"values":[0,1000,2000,3000,4000,5000,6000],"labelExpr":"indexof([0,1000,3000,5000],datum.value)>=0?datum.label:''"}}},
    "layer":[
     {"data":{"name":"box"},"transform":[{"filter":"datum.gene=='SNCAIP'"}],"layer":[
      {"mark":{"type":"rule","color":"black","strokeDash":[3,3]},"encoding":{"y":{"field":"lo","type":"quantitative","title":null},"y2":{"field":"hi"}}},
      {"mark":{"type":"tick","orient":"horizontal","color":"black","size":5,"thickness":1},"encoding":{"y":{"field":"lo","type":"quantitative","title":null}}},
      {"mark":{"type":"tick","orient":"horizontal","color":"black","size":5,"thickness":1},"encoding":{"y":{"field":"hi","type":"quantitative","title":null}}},
      {"mark":{"type":"bar","orient":"vertical","size":10,"stroke":"black","strokeWidth":1},"encoding":{"y":{"field":"q1","type":"quantitative","title":null},"y2":{"field":"q3"},"fill":{"field":"g","type":"nominal","scale":{"domain":[1,3,5,7,2,4,6,8],"range":["#3b6db4","#f8d71b","#5b4a9a","#efc491","#d3242b","#2e6a35","#e5e4ea","#c1449a"]},"legend":{"title":"Legend:","labelExpr":"['','1 =WNT','2 = SHH','3 = Group 3','4 = Group 4','5 = NSC','6 = NPC','7 = NFGM','8 = NFB'][datum.value]"}}}},
      {"mark":{"type":"tick","orient":"horizontal","color":"black","size":10,"thickness":3},"encoding":{"y":{"field":"med","type":"quantitative","title":null}}}
     ]},
     {"data":{"name":"out"},"transform":[{"filter":"datum.gene=='SNCAIP'"}],"mark":{"type":"point","shape":"circle","filled":false,"color":"black","size":28,"strokeWidth":1,"opacity":1}},
     {"data":{"name":"ann"},"transform":[{"filter":"datum.gene=='SNCAIP'"}],"mark":{"type":"text","fontSize":10,"color":"black"},"encoding":{"text":{"field":"t"}}},
     {"data":{"name":"lab"},"transform":[{"filter":"datum.gene=='SNCAIP'"}],"mark":{"type":"text","align":"right","fontSize":10,"color":"black"},"encoding":{"x":{"field":"x","type":"quantitative","title":null},"y":{"field":"y","type":"quantitative","title":null},"text":{"field":"gene"}}}
    ]},
   {"width":112,"height":108,
    "encoding":{"x":{"field":"g","type":"quantitative","title":null,"scale":{"domain":[0.18,8.82],"nice":false,"zero":false},"axis":{"values":[1,2,3,4,5,6,7,8],"format":"d","labelFontSize":9,"tickSize":4}},
      "y":{"field":"v","type":"quantitative","title":null,"scale":{"domain":[-250,4120],"nice":false,"zero":false},"axis":{"values":[0,1000,2000,3000,4000],"labelExpr":"indexof([0,1000,3000],datum.value)>=0?datum.label:''"}}},
    "layer":[
     {"data":{"name":"box"},"transform":[{"filter":"datum.gene=='SLC6A3'"}],"layer":[
      {"mark":{"type":"rule","color":"black","strokeDash":[3,3]},"encoding":{"y":{"field":"lo","type":"quantitative","title":null},"y2":{"field":"hi"}}},
      {"mark":{"type":"tick","orient":"horizontal","color":"black","size":5,"thickness":1},"encoding":{"y":{"field":"lo","type":"quantitative","title":null}}},
      {"mark":{"type":"tick","orient":"horizontal","color":"black","size":5,"thickness":1},"encoding":{"y":{"field":"hi","type":"quantitative","title":null}}},
      {"mark":{"type":"bar","orient":"vertical","size":10,"stroke":"black","strokeWidth":1},"encoding":{"y":{"field":"q1","type":"quantitative","title":null},"y2":{"field":"q3"},"fill":{"field":"g","type":"nominal","scale":{"domain":[1,3,5,7,2,4,6,8],"range":["#3b6db4","#f8d71b","#5b4a9a","#efc491","#d3242b","#2e6a35","#e5e4ea","#c1449a"]},"legend":{"title":"Legend:","labelExpr":"['','1 =WNT','2 = SHH','3 = Group 3','4 = Group 4','5 = NSC','6 = NPC','7 = NFGM','8 = NFB'][datum.value]"}}}},
      {"mark":{"type":"tick","orient":"horizontal","color":"black","size":10,"thickness":3},"encoding":{"y":{"field":"med","type":"quantitative","title":null}}}
     ]},
     {"data":{"name":"out"},"transform":[{"filter":"datum.gene=='SLC6A3'"}],"mark":{"type":"point","shape":"circle","filled":false,"color":"black","size":28,"strokeWidth":1,"opacity":1}},
     {"data":{"name":"ann"},"transform":[{"filter":"datum.gene=='SLC6A3'"}],"mark":{"type":"text","fontSize":10,"color":"black"},"encoding":{"text":{"field":"t"}}},
     {"data":{"name":"lab"},"transform":[{"filter":"datum.gene=='SLC6A3'"}],"mark":{"type":"text","align":"right","fontSize":10,"color":"black"},"encoding":{"x":{"field":"x","type":"quantitative","title":null},"y":{"field":"y","type":"quantitative","title":null},"text":{"field":"gene"}}}
    ]},
   {"width":112,"height":108,
    "encoding":{"x":{"field":"g","type":"quantitative","title":null,"scale":{"domain":[0.18,8.82],"nice":false,"zero":false},"axis":{"values":[1,2,3,4,5,6,7,8],"format":"d","labelFontSize":9,"tickSize":4}},
      "y":{"field":"v","type":"quantitative","title":null,"scale":{"domain":[-250,4120],"nice":false,"zero":false},"axis":{"values":[0,1000,2000,3000,4000],"labelExpr":"indexof([0,1000,3000],datum.value)>=0?datum.label:''"}}},
    "layer":[
     {"data":{"name":"box"},"transform":[{"filter":"datum.gene=='NPTX1'"}],"layer":[
      {"mark":{"type":"rule","color":"black","strokeDash":[3,3]},"encoding":{"y":{"field":"lo","type":"quantitative","title":null},"y2":{"field":"hi"}}},
      {"mark":{"type":"tick","orient":"horizontal","color":"black","size":5,"thickness":1},"encoding":{"y":{"field":"lo","type":"quantitative","title":null}}},
      {"mark":{"type":"tick","orient":"horizontal","color":"black","size":5,"thickness":1},"encoding":{"y":{"field":"hi","type":"quantitative","title":null}}},
      {"mark":{"type":"bar","orient":"vertical","size":10,"stroke":"black","strokeWidth":1},"encoding":{"y":{"field":"q1","type":"quantitative","title":null},"y2":{"field":"q3"},"fill":{"field":"g","type":"nominal","scale":{"domain":[1,3,5,7,2,4,6,8],"range":["#3b6db4","#f8d71b","#5b4a9a","#efc491","#d3242b","#2e6a35","#e5e4ea","#c1449a"]},"legend":{"title":"Legend:","labelExpr":"['','1 =WNT','2 = SHH','3 = Group 3','4 = Group 4','5 = NSC','6 = NPC','7 = NFGM','8 = NFB'][datum.value]"}}}},
      {"mark":{"type":"tick","orient":"horizontal","color":"black","size":10,"thickness":3},"encoding":{"y":{"field":"med","type":"quantitative","title":null}}}
     ]},
     {"data":{"name":"out"},"transform":[{"filter":"datum.gene=='NPTX1'"}],"mark":{"type":"point","shape":"circle","filled":false,"color":"black","size":28,"strokeWidth":1,"opacity":1}},
     {"data":{"name":"lab"},"transform":[{"filter":"datum.gene=='NPTX1'"}],"mark":{"type":"text","align":"right","fontSize":10,"color":"black"},"encoding":{"x":{"field":"x","type":"quantitative","title":null},"y":{"field":"y","type":"quantitative","title":null},"text":{"field":"gene"}}}
    ]}
  ],"spacing":38,"bounds":"flush"}
],"columns":1,"align":"none","spacing":15}
